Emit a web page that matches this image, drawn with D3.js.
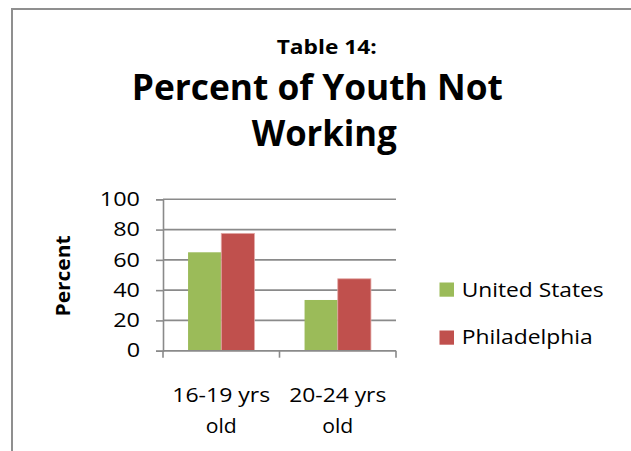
<!DOCTYPE html>
<html>
<head>
<meta charset="utf-8">
<script src="https://cdn.jsdelivr.net/npm/d3@7"></script>
<style>
  html, body { margin: 0; padding: 0; background: #fff; }
  svg { display: block; }
  text { font-family: "Open Sans", "Noto Sans", sans-serif; fill: #000; }
</style>
</head>
<body>
<svg id="chart" width="631" height="451"></svg>
<script>
// Chart data
const categories = ["16-19 yrs old", "20-24 yrs old"];
const seriesNames = ["United States", "Philadelphia"];
const unitedStates = [65, 33.5];
const philadelphia = [77.5, 47.5];
const yTicks = [0, 20, 40, 60, 80, 100];
const titleLines = ["Percent of Youth Not", "Working"];
const subTitle = "Table 14:";
const yAxisTitle = "Percent";

const colors = { "United States": "#9BBB59", "Philadelphia": "#C0504D" };
const values = { "United States": unitedStates, "Philadelphia": philadelphia };

const svg = d3.select("#chart");

// Outer frame of the chart object
svg.append("rect")
  .attr("x", 12).attr("y", 9)
  .attr("width", 660).attr("height", 470)
  .attr("fill", "#fff")
  .attr("stroke", "#8f8f8f").attr("stroke-width", 2);

// Stretch a text element horizontally to a set width, keeping its height
function fitWidth(sel, w) {
  sel.attr("textLength", w).attr("lengthAdjust", "spacingAndGlyphs");
}

// Titles
svg.append("text").text(subTitle)
  .attr("x", 326.7).attr("y", 54.3)
  .attr("text-anchor", "middle").attr("font-weight", "bold")
  .attr("font-size", 20)
  .call(fitWidth, 100);

const titleCenters = [317.3, 324.2];
const titleBaselines = [100, 146];
const titleWidths = [371, 145];
titleLines.forEach((line, i) => {
  svg.append("text").text(line)
    .attr("x", titleCenters[i]).attr("y", titleBaselines[i])
    .attr("text-anchor", "middle").attr("font-weight", "bold")
    .attr("font-size", 35.5)
    .call(fitWidth, titleWidths[i]);
});

// Plot area
const plot = { left: 163, right: 396, top: 199.3, bottom: 350.7 };

const y = d3.scaleLinear().domain([0, 100]).range([plot.bottom, plot.top]);
const x0 = d3.scaleBand().domain(categories).range([plot.left, plot.right]).padding(0);
const x1 = d3.scaleBand().domain(seriesNames).range([0, x0.bandwidth()])
  .paddingInner(0).paddingOuter(0.755);

const gridColor = "#8a8a8a";

// Gridlines
svg.append("g")
  .selectAll("line")
  .data(yTicks)
  .join("line")
  .attr("x1", plot.left).attr("x2", plot.right)
  .attr("y1", d => y(d)).attr("y2", d => y(d))
  .attr("stroke", gridColor).attr("stroke-width", 1.6);

// Y axis
const yAxis = svg.append("g")
  .attr("transform", `translate(${plot.left},0)`)
  .call(d3.axisLeft(y).tickValues(yTicks).tickSize(7).tickPadding(16).tickFormat(d3.format("d")));
yAxis.select(".domain").attr("stroke", gridColor).attr("stroke-width", 1.6);
yAxis.selectAll(".tick line").attr("stroke", gridColor).attr("stroke-width", 1.6);
yAxis.selectAll(".tick text")
  .attr("font-size", 19.5)
  .attr("font-family", "\"Open Sans\", sans-serif")
  .attr("fill", "#000")
  .each(function () {
    const t = d3.select(this);
    const n = this.getComputedTextLength();
    t.attr("textLength", n * 1.2).attr("lengthAdjust", "spacingAndGlyphs");
  });

// Bars
const groups = svg.append("g")
  .selectAll("g")
  .data(categories)
  .join("g")
  .attr("transform", d => `translate(${x0(d)},0)`);

groups.selectAll("rect")
  .data((c, ci) => seriesNames.map(s => ({ s, v: values[s][ci] })))
  .join("rect")
  .attr("x", d => x1(d.s))
  .attr("width", x1.bandwidth())
  .attr("y", d => y(d.v))
  .attr("height", d => y(0) - y(d.v))
  .attr("fill", d => colors[d.s])
  .attr("stroke", d => d.s === "Philadelphia" ? "#e3a9a7" : "none")
  .attr("stroke-width", 0.8);

// X axis
const xAxis = svg.append("g")
  .attr("transform", `translate(0,${plot.bottom})`);
xAxis.append("line")
  .attr("x1", plot.left).attr("x2", plot.right)
  .attr("stroke", gridColor).attr("stroke-width", 1.6);
const xTickPos = [plot.left].concat(categories.map(c => x0(c) + x0.bandwidth()));
xAxis.selectAll("line.tick")
  .data(xTickPos)
  .join("line")
  .attr("class", "tick")
  .attr("x1", d => d).attr("x2", d => d)
  .attr("y1", 0).attr("y2", 7)
  .attr("stroke", gridColor).attr("stroke-width", 1.6);

// Category labels wrapped over two lines
const firstLineWidths = [98, 97];
categories.forEach((c, i) => {
  const parts = [c.replace(/ old$/, ""), "old"];
  const cx = x0(c) + x0.bandwidth() / 2;
  svg.append("text").text(parts[0])
    .attr("x", cx).attr("y", 401.7)
    .attr("text-anchor", "middle").attr("font-size", 20.5)
    .call(fitWidth, firstLineWidths[i]);
  svg.append("text").text(parts[1])
    .attr("x", cx).attr("y", 433)
    .attr("text-anchor", "middle").attr("font-size", 20.5)
    .call(fitWidth, 31);
});

// Y axis title
svg.append("text").text(yAxisTitle)
  .attr("transform", "translate(70,276) rotate(-90)")
  .attr("text-anchor", "middle").attr("font-weight", "bold")
  .attr("font-size", 19.5)
  .call(fitWidth, 81);

// Legend
const legendTop = [282.5, 330.5];
const legendBase = [296.5, 344.2];
const legendWidths = [142, 131];
seriesNames.forEach((s, i) => {
  svg.append("rect")
    .attr("x", 439.5).attr("y", legendTop[i])
    .attr("width", 14.5).attr("height", 14.2)
    .attr("fill", colors[s]);
  svg.append("text").text(s)
    .attr("x", 461.7).attr("y", legendBase[i])
    .attr("font-size", 20)
    .call(fitWidth, legendWidths[i]);
});
</script>
</body>
</html>
